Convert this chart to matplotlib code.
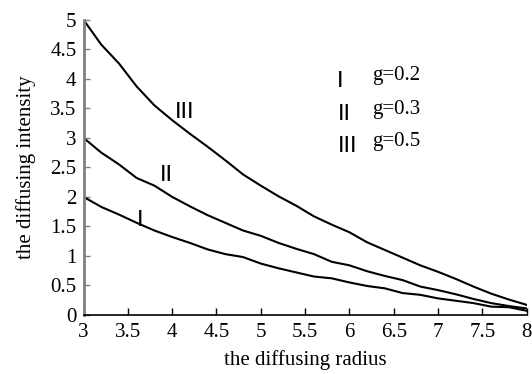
import matplotlib
matplotlib.use("Agg")
import matplotlib.pyplot as plt

# diffusing radius (x) and intensity for the three g values
radius = [3.0, 3.2, 3.4, 3.6, 3.8, 4.0, 4.2, 4.4, 4.6, 4.8, 5.0, 5.2, 5.4,
          5.6, 5.8, 6.0, 6.2, 6.4, 6.6, 6.8, 7.0, 7.2, 7.4, 7.6, 7.8, 8.0]
g02 = [2.0, 1.83, 1.70, 1.56, 1.43, 1.32, 1.22, 1.11, 1.03, 0.98, 0.87, 0.79, 0.72,
       0.65, 0.62, 0.55, 0.49, 0.45, 0.37, 0.34, 0.28, 0.24, 0.20, 0.14, 0.13, 0.07]
g03 = [3.0, 2.75, 2.55, 2.32, 2.19, 2.0, 1.84, 1.69, 1.56, 1.43, 1.34, 1.22, 1.12,
       1.03, 0.90, 0.84, 0.74, 0.66, 0.59, 0.48, 0.42, 0.35, 0.27, 0.20, 0.15, 0.11]
g05 = [5.0, 4.58, 4.26, 3.87, 3.55, 3.30, 3.07, 2.85, 2.62, 2.38, 2.19, 2.01, 1.85,
       1.67, 1.53, 1.40, 1.23, 1.10, 0.97, 0.84, 0.73, 0.61, 0.48, 0.36, 0.26, 0.17]

curve_names = ["I", "II", "III"]
legend_text = ["g=0.2", "g=0.3", "g=0.5"]
xticks = [3, 3.5, 4, 4.5, 5, 5.5, 6, 6.5, 7, 7.5, 8]
xtick_labels = ["3", "3.5", "4", "4.5", "5", "5.5", "6", "6.5", "7", "7.5", "8"]
yticks = [0, 0.5, 1, 1.5, 2, 2.5, 3, 3.5, 4, 4.5, 5]
ytick_labels = ["0", "0.5", "1", "1.5", "2", "2.5", "3", "3.5", "4", "4.5", "5"]

serif = "Liberation Serif"
fs = 15

fig = plt.figure(figsize=(5.32, 3.74), dpi=100)
ax = fig.add_axes([0.157, 0.158, 0.833, 0.789])

for ys in (g02, g03, g05):
    ax.plot(radius, ys, color="black", lw=1.5)

ax.set_xlim(3, 8)
ax.set_ylim(0, 5)
ax.set_xticks(xticks)
ax.set_xticklabels(xtick_labels, fontfamily=serif, fontsize=fs)
ax.set_yticks(yticks)
ax.set_yticklabels(ytick_labels, fontfamily=serif, fontsize=fs)

for s in ("top", "right"):
    ax.spines[s].set_visible(False)
ax.spines["left"].set_color("#808080")
ax.spines["left"].set_linewidth(2)
ax.spines["bottom"].set_linewidth(1.2)
ax.tick_params(axis="x", direction="in", length=5, width=1, pad=6)
ax.tick_params(axis="y", direction="in", length=4, width=1, color="#808080", pad=5)

ax.set_xlabel("the diffusing radius", fontfamily=serif, fontsize=fs, labelpad=6)
ax.set_ylabel("the diffusing intensity", fontfamily=serif, fontsize=fs, labelpad=10)

# curve labels
curve_pos = [(3.64, 1.61), (3.94, 2.37), (4.14, 3.43)]
for name, (x, y) in zip(curve_names, curve_pos):
    ax.text(x, y, name, fontfamily="DejaVu Sans", fontsize=16,
            ha="center", va="center")

# legend-like key
key_y = [3.97, 3.40, 2.86]
key_x = [5.90, 5.94, 5.98]
for name, txt, x, y in zip(curve_names, legend_text, key_x, key_y):
    ax.text(x, y, name, fontfamily="DejaVu Sans", fontsize=16,
            ha="center", va="center")
    ax.text(6.26, y + 0.08, txt, fontfamily=serif, fontsize=fs,
            ha="left", va="center")

fig.savefig("out.png", dpi=100)
